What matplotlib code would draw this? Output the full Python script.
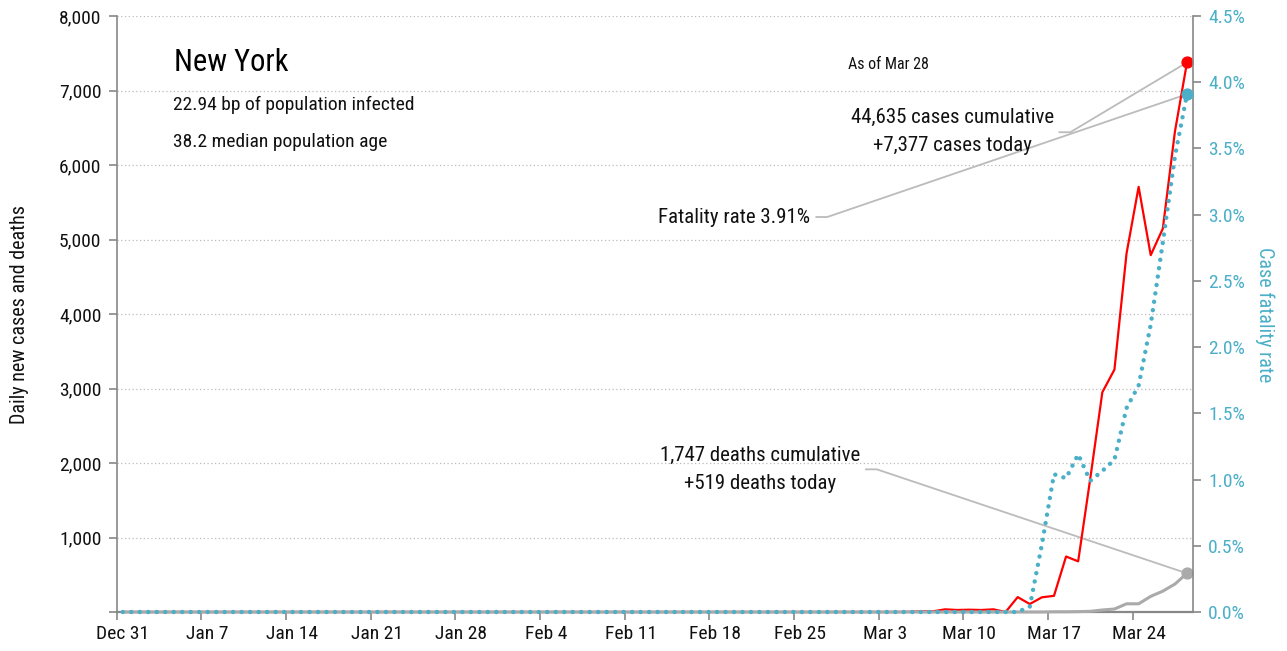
import matplotlib
matplotlib.use("Agg")
import matplotlib.pyplot as plt
import numpy as np

plt.rcParams['font.family'] = ['Roboto Condensed', 'Liberation Sans Narrow', 'Liberation Sans', 'DejaVu Sans']

# ---- data (day index: 0 = Dec 31; values plotted at mid-day) ----
n_days = 89
tick_days = [0, 7, 14, 21, 28, 35, 42, 49, 56, 63, 70, 77, 84]
tick_labels = ["Dec 31", "Jan 7", "Jan 14", "Jan 21", "Jan 28", "Feb 4", "Feb 11",
               "Feb 18", "Feb 25", "Mar 3", "Mar 10", "Mar 17", "Mar 24"]

# daily new cases, from day 64 (Mar 4) to day 88 (Mar 28); zero before
cases_tail = [0, 2, 9, 9, 36, 27, 31, 27, 36, 0, 200, 107, 197, 217, 745, 680,
              1790, 2950, 3254, 4812, 5707, 4790, 5146, 6447, 7377]
# deaths line, from day 76 to day 88; zero before
deaths_tail = [0, 3, 3, 5, 9, 27, 40, 110, 110, 210, 280, 375, 519]
# case fatality rate (%), from day 74 to day 88; zero before
cfr_tail = [0.0, 0.04, 0.51, 1.04, 1.01, 1.19, 0.99, 1.065, 1.15, 1.54, 1.71,
            2.17, 2.79, 3.44, 3.91]
cum_cases = 44635
cum_deaths = 1747

cases = [0] * (n_days - len(cases_tail)) + cases_tail
deaths = [0] * (n_days - len(deaths_tail)) + deaths_tail
cfr = [0.0] * (n_days - len(cfr_tail)) + cfr_tail
x = np.arange(n_days) + 0.5

RED = "#FF0000"
BLUE = "#4BAFC8"
GRAY = "#AAAAAA"
LEAD = "#BBBBBB"
SPINE = "#888888"
TXT = "#111111"

fig = plt.figure(figsize=(12.87, 6.51), dpi=100)
ax = fig.add_axes([0.0907, 0.0599, 0.8363, 0.9155])
ax2 = ax.twinx()

ax.set_xlim(0, 89)
ax.set_ylim(0, 8000)
ax2.set_ylim(0, 4.5)

# grid
for v in range(1000, 8001, 1000):
    ax.axhline(v, color="#BBBBBB", lw=0.9, ls=(0, (1, 2)), zorder=0)

ax.plot(x, cases, color=RED, lw=1.6, zorder=4, clip_on=False)
ax.plot(x, deaths, color=GRAY, lw=2.2, zorder=4.5, solid_capstyle='round', clip_on=False)
ax2.plot(x, cfr, color=BLUE, lw=3.2, ls=(0, (0.01, 1.9)), dash_capstyle='round', zorder=4, clip_on=False)

ax.plot(x[-1], deaths[-1], 'o', color=GRAY, ms=7.8, zorder=5, clip_on=False)
ax.plot(x[-1], cases[-1], 'o', color=RED, ms=7.8, zorder=5, clip_on=False)
ax2.plot(x[-1], cfr[-1], 'o', color=BLUE, ms=7.8, zorder=5, clip_on=False)

# axes styling
for a in (ax, ax2):
    a.spines['top'].set_visible(False)
ax.spines['left'].set_color(SPINE)
ax.spines['left'].set_linewidth(1.2)
ax.spines['bottom'].set_color(SPINE)
ax.spines['bottom'].set_linewidth(1.6)
ax.spines['right'].set_visible(False)
ax2.spines['left'].set_visible(False)
ax2.spines['bottom'].set_visible(False)
ax2.spines['right'].set_color(SPINE)
ax2.spines['right'].set_linewidth(1.2)

# x ticks: marks at midnight, labels at mid-day
ax.set_xticks(tick_days)
ax.set_xticklabels([])
ax.set_xticks([d + 0.5 for d in tick_days], minor=True)
ax.set_xticklabels(tick_labels, minor=True)
ax.tick_params(axis='x', which='major', colors=SPINE, length=6, width=1.2, direction='out')
ax.tick_params(axis='x', which='minor', length=0, labelcolor=TXT, labelsize=14, pad=9)

yt = list(range(0, 8001, 1000))
ax.set_yticks(yt)
ax.set_yticklabels([""] + [f"{v:,}" for v in yt[1:]])
rt = [i * 0.5 for i in range(10)]
ax2.set_yticks(rt)
ax2.set_yticklabels([f"{v:.1f}%" for v in rt])

ax.tick_params(axis='y', colors=SPINE, labelcolor=TXT, labelsize=14, length=6, width=1.2, pad=5)
ax2.tick_params(axis='y', colors=SPINE, labelcolor=BLUE, labelsize=14, length=6, width=1.2, pad=5)

fig.text(20 / 1287, 1 - 315 / 651, "Daily new cases and deaths", rotation=90, ha='center', va='center',
         fontsize=14.5, color=TXT)
fig.text(1265 / 1287, 1 - 315 / 651, "Case fatality rate", rotation=270, ha='center', va='center',
         fontsize=14.5, color=BLUE)

# header texts
ax.text(0.0532, 0.9077, "New York", transform=ax.transAxes, fontsize=22, color="#000000", va='baseline')
ax.text(0.0525, 0.8423, "22.94 bp of population infected", transform=ax.transAxes, fontsize=14, color=TXT, va='baseline')
ax.text(0.0525, 0.7808, "38.2 median population age", transform=ax.transAxes, fontsize=14, color=TXT, va='baseline')
ax.text(0.679, 0.911, "As of Mar 28", transform=ax.transAxes, fontsize=11.5, color=TXT, va='baseline')

# annotations with leader lines
def leader(ax_, x0, y0, xe, ye, seg=0.9):
    ax_.plot([x0, x0 + seg, xe], [y0, y0, ye], color=LEAD, lw=1.3, zorder=2, clip_on=False)

cfr_left = cfr[-1] / 4.5 * 8000
ax.text(69.1, 6450, f"{cum_cases:,} cases cumulative\n+{cases[-1]:,} cases today", ha='center', va='center',
        fontsize=15, color=TXT, linespacing=1.6)
leader(ax, 77.95, 6440, x[-1], cases[-1])

ax.text(57.3, 5302, f"Fatality rate {cfr[-1]:.2f}%", ha='right', va='center', fontsize=15, color=TXT)
leader(ax, 57.85, 5302, x[-1], cfr_left)

ax.text(53.2, 1919, f"{cum_deaths:,} deaths cumulative\n+{deaths[-1]:,} deaths today", ha='center', va='center',
        fontsize=15, color=TXT, linespacing=1.6)
leader(ax, 61.95, 1915, x[-1], deaths[-1])

fig.savefig("out.png", dpi=100)
